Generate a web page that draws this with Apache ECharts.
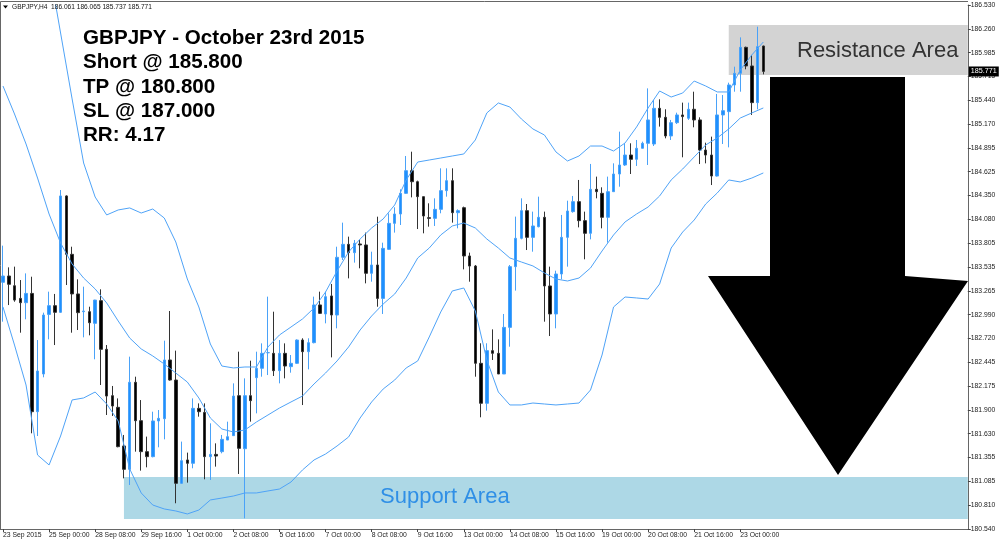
<!DOCTYPE html>
<html><head><meta charset="utf-8">
<script src="https://cdn.jsdelivr.net/npm/echarts@6/dist/echarts.min.js"></script>
<style>html,body{margin:0;padding:0;background:#fff}#c{width:1000px;height:544px}</style>
</head><body><div id="c"></div>
<script>
// [open, close, low, high] per H4 candle, starting 23 Sep 2015 16:00
const candles = [
[183.360,183.432,182.910,183.779],[183.432,183.337,183.100,183.531],[183.321,183.157,183.138,183.539],[183.176,183.127,182.784,183.386],
[183.127,183.233,182.937,183.462],[183.233,181.881,181.634,183.424],[181.881,182.346,181.603,182.700],[182.312,182.986,182.274,183.013],
[182.993,183.093,182.708,183.253],[183.093,183.017,182.643,183.227],[183.017,184.347,183.010,184.415],[184.347,183.680,183.329,184.354],
[183.680,183.227,182.784,183.767],[183.227,183.013,182.815,183.394],[183.024,183.032,182.731,183.310],[183.024,182.898,182.754,183.081],
[182.891,183.157,182.480,183.160],[183.150,182.594,182.186,183.280],[182.594,182.060,181.843,182.643],[182.064,181.946,181.832,182.175],
[181.931,181.481,181.474,182.033],[181.489,181.222,181.119,181.615],[181.222,182.217,181.043,182.510],[182.217,181.778,181.424,182.281],
[181.778,181.424,181.207,182.014],[181.424,181.367,181.245,181.596],[181.367,181.775,181.359,181.881],[181.775,181.805,181.474,181.900],
[181.801,182.472,181.565,182.693],[182.472,182.243,182.236,183.032],[182.243,181.062,180.834,182.579],[181.062,181.321,181.055,181.539],
[181.329,181.291,181.070,181.413],[181.291,181.919,181.234,182.033],[181.919,181.881,181.824,181.976],[181.873,181.367,181.108,181.976],
[181.367,181.393,181.100,181.748],[181.393,181.374,181.253,181.519],[181.424,181.565,181.405,181.615],[181.557,181.595,181.557,181.767],
[181.607,182.060,181.603,182.205],[182.064,181.462,181.169,182.567],[181.458,182.064,180.662,182.262],[182.064,182.007,181.767,182.464],
[182.270,182.377,181.862,182.567],[182.377,182.548,182.281,182.662],[182.555,182.556,182.300,183.196],[182.548,182.350,182.289,183.024],
[182.350,182.548,182.205,182.700],[182.548,182.403,182.262,182.662],[182.396,182.434,182.327,182.529],[182.434,182.700,182.426,182.708],
[182.700,182.567,181.957,182.720],[182.567,182.670,182.365,182.720],[182.670,183.101,182.662,183.196],[183.101,183.005,182.998,183.253],
[182.998,183.196,182.891,183.253],[183.204,182.986,182.502,183.341],[182.986,183.646,182.834,183.767],[183.646,183.794,183.615,184.042],
[183.794,183.699,183.405,183.882],[183.699,183.806,183.585,183.844],[183.798,183.787,183.520,183.844],[183.787,183.463,183.348,183.928],
[183.463,183.558,183.367,183.710],[183.558,183.176,183.081,184.110],[183.176,183.748,182.998,183.813],[183.737,184.034,183.729,184.148],
[184.034,184.141,183.928,184.217],[184.141,184.377,184.015,184.423],[184.377,184.636,184.370,184.804],[184.636,184.510,184.331,184.853],
[184.510,184.339,183.969,184.522],[184.339,184.118,183.920,184.339],[184.099,184.091,183.996,184.263],[184.091,184.194,184.004,184.320],
[184.194,184.408,184.149,184.663],[184.408,184.522,184.339,184.663],[184.522,184.156,184.042,184.663],[184.156,184.179,183.977,184.194],
[184.213,183.661,183.508,184.225],[183.661,183.546,183.367,183.699],[183.546,182.434,182.281,183.558],[182.434,181.977,181.817,182.663],
[181.977,182.579,181.893,182.663],[182.579,182.548,182.472,182.822],[182.548,182.312,182.312,182.708],[182.312,182.845,182.312,182.998],
[182.845,183.539,182.624,183.558],[183.539,183.863,183.265,184.111],[183.863,184.179,183.851,184.320],[184.179,183.874,183.729,184.255],
[183.874,184.004,183.710,184.168],[183.996,184.103,183.988,184.339],[184.103,183.318,182.910,184.168],[183.318,182.998,182.746,183.539],
[182.998,183.455,182.834,183.493],[183.455,183.874,183.394,184.130],[183.874,184.175,183.539,184.293],[184.168,184.282,184.156,184.347],
[184.282,184.065,183.988,184.530],[184.065,183.920,183.623,184.168],[183.920,184.423,183.851,184.713],[184.423,184.396,184.320,184.568],
[184.377,184.103,183.977,184.446],[184.103,184.396,183.813,184.568],[184.396,184.598,184.396,184.720],[184.598,184.701,184.453,185.082],
[184.701,184.815,184.690,184.949],[184.815,184.766,184.598,184.949],[184.766,184.892,184.690,184.987],[184.892,184.949,184.892,184.968],
[184.949,185.216,184.701,185.577],[184.941,185.349,184.918,185.444],[185.349,185.246,185.140,185.452],[185.246,185.033,185.006,185.338],
[185.033,185.185,184.987,185.216],[185.185,185.273,185.170,185.299],[185.273,185.254,184.789,185.414],[185.235,185.338,185.216,185.414],
[185.338,185.216,185.132,185.539],[185.216,184.872,184.712,185.246],[184.872,184.815,184.720,184.956],[184.815,184.575,184.472,185.025],
[184.575,185.273,184.568,185.513],[185.273,185.322,184.941,185.501],[185.311,185.616,184.903,185.642],[185.616,185.749,185.539,185.825],
[185.749,186.046,185.539,186.160],[186.046,185.833,185.795,186.054],[185.833,185.414,185.273,185.959],[185.414,186.054,185.338,186.282],
[186.061,185.771,185.737,186.065]
];
const tickLabelsX = ['23 Sep 2015','25 Sep 00:00','28 Sep 08:00','29 Sep 16:00','1 Oct 00:00','2 Oct 08:00','5 Oct 16:00','7 Oct 00:00',
  '8 Oct 08:00','9 Oct 16:00','13 Oct 00:00','14 Oct 08:00','15 Oct 16:00','19 Oct 00:00','20 Oct 08:00','21 Oct 16:00','23 Oct 00:00'];
const priceLabels = ['186.530','186.260','185.985','185.715','185.440','185.170','184.895','184.625','184.350','184.080','183.805','183.535',
  '183.265','182.990','182.720','182.445','182.175','181.900','181.630','181.355','181.085','180.810','180.540'];
// Bollinger bands at every second candle
const bandIdx = [0,2,4,6,8,10,12,14,16,18,20,22,24,26,28,30,32,34,36,38,40,42,44,46,48,50,52,54,56,58,60,62,64,66,
  68,70,72,74,76,78,80,82,84,86,88,90,92,94,96,98,100,102,104,106,108,110,112,114,116,118,120,122,124,126,128,130,132];
const bandMiddle = [185.604,185.284,184.941,184.552,184.141,183.809,183.569,183.409,183.284,183.124,182.918,182.723,182.598,182.518,
  182.426,182.323,182.220,182.038,181.809,181.683,181.649,181.672,181.763,181.843,181.923,181.992,182.060,182.198,182.323,182.461,
  182.621,182.815,182.975,183.112,183.226,183.409,183.638,183.752,183.901,184.004,184.038,183.981,183.855,183.752,183.638,183.592,
  183.547,183.467,183.398,183.375,183.409,183.524,183.718,183.901,184.050,184.141,184.221,184.347,184.530,184.655,184.793,184.930,
  185.010,185.113,185.238,185.296,185.353];
const bandLower = [183.078,182.643,182.186,181.386,181.272,181.603,182.015,182.038,182.106,181.969,181.775,181.226,180.952,180.814,
  180.769,180.746,180.712,180.757,180.872,180.894,180.917,180.952,180.952,180.975,180.997,181.077,181.215,181.329,181.397,181.489,
  181.592,181.809,181.992,182.140,182.243,182.381,182.461,182.735,183.021,183.261,183.295,183.032,182.472,182.106,181.958,181.958,
  181.980,181.969,181.958,181.969,181.980,182.129,182.529,183.078,183.192,183.181,183.169,183.341,183.752,183.935,184.072,184.255,
  184.381,184.530,184.507,184.552,184.610];
const upperIdx = [9,10,12,14,16,18,20,22,24,26,28,30,32,34,36,38,40,42,44,46,48,50,52,54,56,58,60,62,64,66,
  68,70,72,74,76,78,80,82,84,86,88,90,92,94,96,98,100,102,104,106,108,110,112,114,116,118,120,122,124,126,128,130,132];
const bandUpper = [186.587,186.210,185.456,184.724,184.335,184.130,184.187,184.210,184.152,184.198,184.095,183.821,183.398,183.078,
  182.655,182.403,182.381,182.392,182.392,182.621,182.758,182.849,182.941,183.066,183.249,183.489,183.707,183.855,183.981,184.084,
  184.244,184.530,184.735,184.758,184.781,184.804,184.827,184.987,185.296,185.410,185.364,185.227,185.113,185.044,184.850,184.747,
  184.804,184.918,184.918,184.861,184.953,185.136,185.353,185.547,185.478,185.524,185.661,185.604,185.536,185.536,185.787,185.959,186.107];
const resistanceArea = [186.301, 185.730];
const supportArea = [181.135, 180.654];
const resistanceStart = 126, supportStart = 21;
const lastPrice = 185.771;
const header = 'GBPJPY,H4  186.061 186.065 185.737 185.771';
const titleLines = ['GBPJPY - October 23rd 2015','Short @ 185.800','TP @ 180.800','SL @ 187.000','RR: 4.17'];
const shiftBars = 35;

// H4 time categories (weekdays only)
const pad = n => (n < 10 ? '0' : '') + n;
const mon = ['Jan','Feb','Mar','Apr','May','Jun','Jul','Aug','Sep','Oct','Nov','Dec'];
const categories = [];
let t = Date.UTC(2015, 8, 23, 16);
while (categories.length < candles.length) {
  const d = new Date(t); const wd = d.getUTCDay();
  if (wd !== 0 && wd !== 6) categories.push(d.getUTCDate() + ' ' + mon[d.getUTCMonth()] + ' ' + pad(d.getUTCHours()) + ':00');
  t += 4 * 3600e3;
}
for (let k = 0; k < shiftBars; k++) categories.push('shift' + k);

const showTick = (i) => i % 8 === 0 && i / 8 < tickLabelsX.length;
const pairs = (idx, vals) => idx.map((x, k) => [x, vals[k]]);
const bandStyle = { color: '#4fa3f7', width: 1 };
const font = '"Liberation Sans", Arial, sans-serif';

const chart = echarts.init(document.getElementById('c'), null, { renderer: 'canvas' });
const graphics = [
  { type: 'line', shape: { x1: 0.5, y1: 1.5, x2: 0.5, y2: 529 }, style: { stroke: '#666', lineWidth: 1 }, z: 10 },
  { type: 'line', shape: { x1: 0.5, y1: 1.5, x2: 968, y2: 1.5 }, style: { stroke: '#666', lineWidth: 1 }, z: 10 },
  { type: 'polygon', shape: { points: [[3, 5.5], [8, 5.5], [5.5, 8.5]] }, style: { fill: '#000' }, z: 10 },
  { type: 'text', x: 12, y: 7, style: { text: header, font: '6.6px ' + font, fill: '#111', verticalAlign: 'middle', textVerticalAlign: 'middle' }, z: 10 },
  { type: 'polygon', shape: { points: [[770, 77], [905, 77], [905, 276], [968, 281], [838, 475], [708, 276], [770, 276]] }, style: { fill: '#000' }, z: 10 },
  { type: 'text', x: 797, y: 51, style: { text: 'Resistance Area', font: '22px ' + font, fill: '#333', verticalAlign: 'middle', textVerticalAlign: 'middle' }, z: 10 },
  { type: 'text', x: 380, y: 497, style: { text: 'Support Area', font: '22px ' + font, fill: '#2f8fe6', verticalAlign: 'middle', textVerticalAlign: 'middle' }, z: 10 }
];
titleLines.forEach((s, k) => graphics.push({ type: 'text', x: 83, y: 38.5 + k * 24.3,
  style: { text: s, font: 'bold 20.6px ' + font, fill: '#000', verticalAlign: 'middle', textVerticalAlign: 'middle' }, z: 10 }));

chart.setOption({
  animation: false,
  backgroundColor: '#fff',
  grid: { left: -2.2, top: 5, width: 970, height: 524, show: false },
  xAxis: {
    type: 'category', data: categories, boundaryGap: true,
    axisLine: { show: true, lineStyle: { color: '#666', width: 1 } },
    axisTick: { show: true, alignWithLabel: true, interval: showTick, length: 3, lineStyle: { color: '#444' } },
    axisLabel: { interval: showTick, formatter: (v, i) => tickLabelsX[i / 8] || '', align: 'left', margin: 3,
      fontSize: 6.8, color: '#222', fontFamily: font },
    splitLine: { show: false }
  },
  yAxis: [
    { type: 'value', min: 180.540, max: 186.530, show: false, position: 'right', scale: true },
    { type: 'value', min: 0, max: 22, interval: 1, position: 'right',
      axisLine: { show: true, lineStyle: { color: '#666' } },
      axisTick: { show: true, length: 3, lineStyle: { color: '#444' } },
      axisLabel: { formatter: v => priceLabels[22 - v], fontSize: 6.8, color: '#222', margin: 3, fontFamily: font },
      splitLine: { show: false } }
  ],
  series: [
    { type: 'candlestick', yAxisIndex: 0, data: candles, barWidth: 3,
      itemStyle: { color: '#1e90ff', color0: '#000', borderColor: '#4aa2f8', borderColor0: '#333', borderWidth: 1 },
      markArea: { silent: true, itemStyle: { opacity: 1 }, data: [
        [{ xAxis: resistanceStart, yAxis: resistanceArea[0], itemStyle: { color: '#d3d3d3' } }, { yAxis: resistanceArea[1] }],
        [{ xAxis: supportStart, yAxis: supportArea[0], itemStyle: { color: '#add8e6' } }, { yAxis: supportArea[1] }]
      ] },
      markLine: { silent: true, symbol: 'none', lineStyle: { color: 'transparent', width: 0 },
        label: { position: 'end', formatter: lastPrice.toFixed(3), backgroundColor: '#000', color: '#fff',
          padding: [2, 2, 1, 2], fontSize: 7.2, distance: 1, fontFamily: font },
        data: [{ yAxis: lastPrice }] } },
    { type: 'line', yAxisIndex: 0, data: pairs(upperIdx, bandUpper), symbol: 'none', lineStyle: bandStyle, z: 3 },
    { type: 'line', yAxisIndex: 0, data: pairs(bandIdx, bandMiddle), symbol: 'none', lineStyle: bandStyle, z: 3 },
    { type: 'line', yAxisIndex: 0, data: pairs(bandIdx, bandLower), symbol: 'none', lineStyle: bandStyle, z: 3 }
  ],
  graphic: graphics
});
</script></body></html>
